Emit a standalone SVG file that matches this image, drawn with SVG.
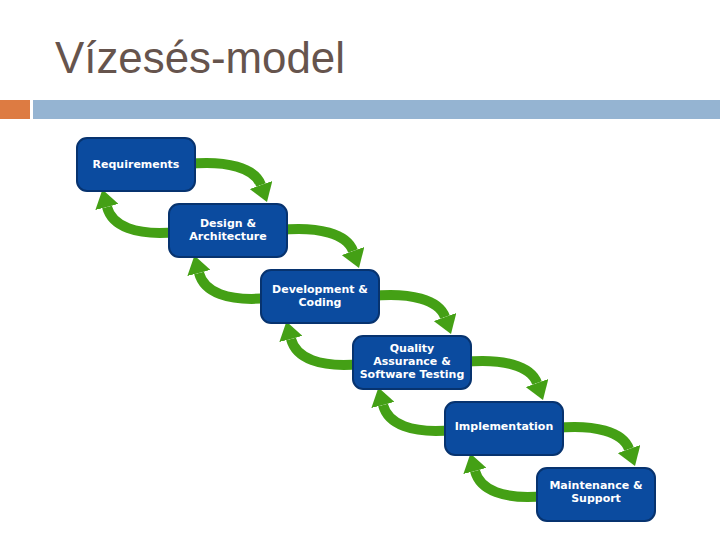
<svg xmlns="http://www.w3.org/2000/svg" width="720" height="540" viewBox="0 0 720 540">
<defs>
<style>
.box{fill:#0b4b9f;stroke:#07336f;stroke-width:2}
.lbl{font-family:"DejaVu Sans",Verdana,sans-serif;font-weight:bold;font-size:11px;fill:#ffffff;text-anchor:middle}
.arr{fill:none;stroke:#44a015;stroke-width:10;marker-end:url(#head)}
</style>
<marker id="head" markerUnits="userSpaceOnUse" viewBox="0 0 18 24" refX="0" refY="12" markerWidth="18" markerHeight="24" orient="auto">
<path d="M0,0 L18,12 L0,24 Z" fill="#44a015"/>
</marker>
</defs>
<rect width="720" height="540" fill="#ffffff"/>
<text x="55" y="73" font-family="Liberation Sans, Arial, sans-serif" font-size="45" fill="#66544d" textLength="290" lengthAdjust="spacingAndGlyphs">Vízesés-model</text>
<rect x="0" y="100" width="30" height="19" fill="#dd7b42"/>
<rect x="33" y="100" width="687" height="19" fill="#95b4d2"/>
<g id="connectors">
<path class="arr" d="M187,164 C227,160 255,168 261,185"/>
<path class="arr" d="M177,232 C135,236 112,226 107,207"/>
<path class="arr" d="M279,230 C319,226 347,234 353,251"/>
<path class="arr" d="M269,298 C227,302 204,292 199,273"/>
<path class="arr" d="M371,296 C411,292 439,300 445,317"/>
<path class="arr" d="M361,364 C319,368 296,358 291,339"/>
<path class="arr" d="M463,362 C503,358 531,366 537,383"/>
<path class="arr" d="M453,430 C411,434 388,424 383,405"/>
<path class="arr" d="M555,428 C595,424 623,432 629,449"/>
<path class="arr" d="M545,496 C503,500 480,490 475,471"/>
</g>
<g id="requirements">
<rect class="box" x="77" y="138" width="118" height="53" rx="10"/>
<text class="lbl" x="136" y="168">Requirements</text>
</g>
<g id="design">
<rect class="box" x="169" y="204" width="118" height="53" rx="10"/>
<text class="lbl" x="228" y="227">Design &amp;</text>
<text class="lbl" x="228" y="240">Architecture</text>
</g>
<g id="development">
<rect class="box" x="261" y="270" width="118" height="53" rx="10"/>
<text class="lbl" x="320" y="293">Development &amp;</text>
<text class="lbl" x="320" y="306">Coding</text>
</g>
<g id="quality">
<rect class="box" x="353" y="336" width="118" height="53" rx="10"/>
<text class="lbl" x="412" y="352">Quality</text>
<text class="lbl" x="412" y="365">Assurance &amp;</text>
<text class="lbl" x="412" y="378">Software Testing</text>
</g>
<g id="implementation">
<rect class="box" x="445" y="402" width="118" height="53" rx="10"/>
<text class="lbl" x="504" y="430">Implementation</text>
</g>
<g id="maintenance">
<rect class="box" x="537" y="468" width="118" height="53" rx="10"/>
<text class="lbl" x="596" y="489">Maintenance &amp;</text>
<text class="lbl" x="596" y="502">Support</text>
</g>
</svg>
